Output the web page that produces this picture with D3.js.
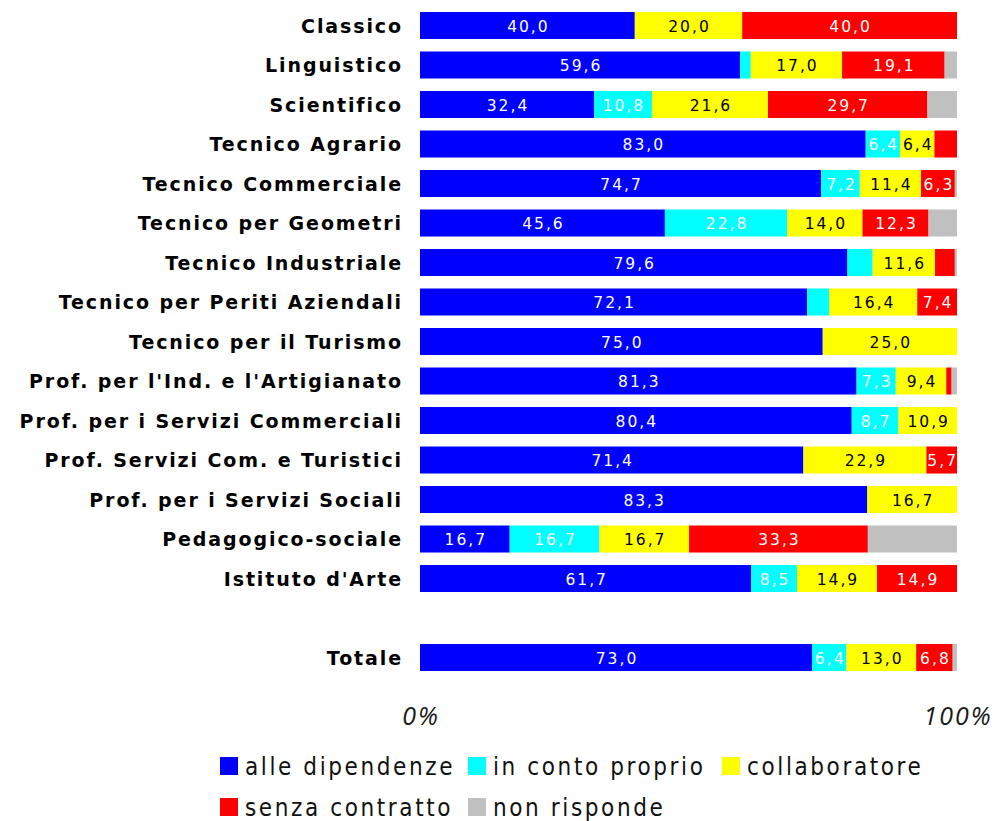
<!DOCTYPE html>
<html>
<head>
<meta charset="utf-8">
<script src="https://cdn.jsdelivr.net/npm/d3@7"></script>
<style>
  body { margin: 0; background: #fff; }
  svg { display: block; }
</style>
</head>
<body>
<div id="chart"></div>
<script>
// #Data
const categories = ['Classico', 'Linguistico', 'Scientifico', 'Tecnico Agrario', 'Tecnico Commerciale',
  'Tecnico per Geometri', 'Tecnico Industriale', 'Tecnico per Periti Aziendali', 'Tecnico per il Turismo',
  "Prof. per l'Ind. e l'Artigianato", 'Prof. per i Servizi Commerciali', 'Prof. Servizi Com. e Turistici',
  'Prof. per i Servizi Sociali', 'Pedagogico-sociale', "Istituto d'Arte", 'Totale'];
const seriesNames = ['alle dipendenze', 'in conto proprio', 'collaboratore', 'senza contratto', 'non risponde'];
const dipendenze     = [40.0, 59.6, 32.4, 83.0, 74.7, 45.6, 79.6, 72.1, 75.0, 81.3, 80.4, 71.4, 83.3, 16.7, 61.7, 73.0];
const contoProprio   = [0, 2.0, 10.8, 6.4, 7.2, 22.8, 4.7, 4.1, 0, 7.3, 8.7, 0, 0, 16.7, 8.5, 6.4];
const collaboratore  = [20.0, 17.0, 21.6, 6.4, 11.4, 14.0, 11.6, 16.4, 25.0, 9.4, 10.9, 22.9, 16.7, 16.7, 14.9, 13.0];
const senzaContratto = [40.0, 19.1, 29.7, 4.2, 6.3, 12.3, 3.7, 7.4, 0, 1.0, 0, 5.7, 0, 33.3, 14.9, 6.8];
const nonRisponde    = [0, 2.3, 5.5, 0, 0.4, 5.3, 0.4, 0, 0, 1.0, 0, 0, 0, 16.6, 0, 0.8];
const axisTicks = [0, 100];

// #Build table for d3.stack
const table = categories.map((c, i) => ({
  cat: c,
  row: c === 'Totale' ? 16 : i,
  'alle dipendenze': dipendenze[i],
  'in conto proprio': contoProprio[i],
  'collaboratore': collaboratore[i],
  'senza contratto': senzaContratto[i],
  'non risponde': nonRisponde[i]
}));

// #Dimensions
const w = 996;
const h = 821;
const svg = d3.select('#chart')
              .append('svg')
              .attr('width', w)
              .attr('height', h);

// #Scales
const xScale = d3.scaleLinear()
                 .domain([0, 100])
                 .range([420, 957]);
const yScale = d3.scaleBand()
                 .domain(d3.range(17))
                 .range([5.76, 5.76 + 17 * 39.5])
                 .paddingInner(0.316)
                 .paddingOuter(0.158);
const colors = d3.scaleOrdinal()
                 .domain(seriesNames)
                 .range(['#0000ff', '#00ffff', '#ffff00', '#ff0000', '#c0c0c0']);
const labelColor = d3.scaleOrdinal()
                     .domain(seriesNames)
                     .range(['#ffffff', '#ffffff', '#000000', '#ffffff', 'none']);
const fmt = d3.formatLocale({decimal: ',', thousands: '.', grouping: [3], currency: ['', '€']}).format('.1f');

const stacked = d3.stack().keys(seriesNames)(table);

// #Bars
const layer = svg.selectAll('g.layer')
                 .data(stacked)
                 .enter()
                 .append('g')
                 .attr('class', 'layer')
                 .attr('fill', d => colors(d.key));

layer.selectAll('rect')
     .data(d => d)
     .enter()
     .append('rect')
     .attr('x', d => xScale(d[0]))
     .attr('y', d => yScale(d.data.row))
     .attr('width', d => xScale(d[1]) - xScale(d[0]))
     .attr('height', yScale.bandwidth());

// #Value labels (not shown on small segments nor on "non risponde")
stacked.forEach(s => {
  svg.append('g')
     .selectAll('text')
     .data(s.filter(d => s.key !== 'non risponde' && (d[1] - d[0]) >= 5))
     .enter()
     .append('text')
     .attr('x', d => (xScale(d[0]) + xScale(d[1])) / 2 + 1)
     .attr('y', d => yScale(d.data.row) + yScale.bandwidth() / 2 + 6)
     .attr('text-anchor', 'middle')
     .style('font-family', 'DejaVu Sans, Verdana, sans-serif')
     .style('font-size', '15.5px')
     .style('letter-spacing', '2px')
     .attr('fill', labelColor(s.key))
     .text(d => fmt(d[1] - d[0]));
});

// #Category labels
svg.append('g')
   .selectAll('text')
   .data(table)
   .enter()
   .append('text')
   .attr('x', 403)
   .attr('y', d => yScale(d.row) + yScale.bandwidth() / 2 + 7)
   .attr('text-anchor', 'end')
   .style('font-family', 'DejaVu Sans, Verdana, sans-serif')
   .style('font-weight', 'bold')
   .style('font-size', '19px')
   .style('letter-spacing', '1.9px')
   .attr('fill', '#000')
   .text(d => d.cat);

// #Axis tick labels
svg.append('g')
   .selectAll('text')
   .data(axisTicks)
   .enter()
   .append('text')
   .attr('x', d => xScale(d) + 1)
   .attr('y', 725)
   .attr('text-anchor', 'middle')
   .style('font-family', 'Open Sans, DejaVu Sans, sans-serif')
   .style('font-style', 'italic')
   .style('font-size', '25px')
   .style('letter-spacing', '2px')
   .attr('fill', '#1a1a1a')
   .text(d => d + '%');

// #Legend
const legendCols = [220, 468, 722];
const legend = svg.append('g')
                  .selectAll('g')
                  .data(seriesNames)
                  .enter()
                  .append('g')
                  .attr('transform', (d, i) => 'translate(' + legendCols[i % 3] + ',' + (757 + Math.floor(i / 3) * 41) + ')');
legend.append('rect')
      .attr('width', 18)
      .attr('height', 18)
      .attr('fill', d => colors(d));
legend.append('text')
      .attr('x', 25)
      .attr('y', 18)
      .style('font-family', 'DejaVu Sans Condensed, DejaVu Sans, sans-serif')
      .style('font-size', '24px')
      .style('letter-spacing', '2.6px')
      .attr('fill', '#111')
      .text(d => d);
</script>
</body>
</html>
